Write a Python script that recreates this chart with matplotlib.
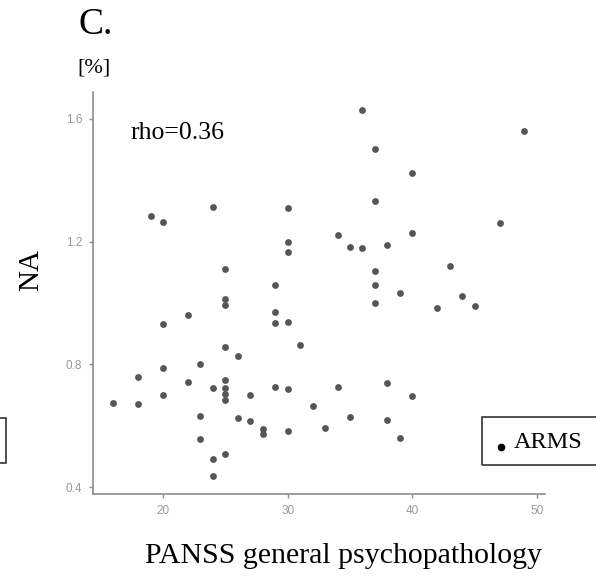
import matplotlib
matplotlib.use('Agg')
import matplotlib.pyplot as plt
from matplotlib.patches import Rectangle

# PANSS general psychopathology score vs NA [%]
panss = [19, 20, 24, 30, 34, 30, 30, 25, 29, 25, 25,
         36, 49, 37, 40, 37, 47, 40, 35, 36, 38, 43, 37, 37, 39, 44, 37, 42, 45,
         31, 34, 38, 40, 32, 35, 33, 38, 39,
         29, 22, 20, 29, 30, 25, 26, 23, 20, 18, 22, 25, 24, 25, 29, 30,
         25, 25, 20, 27, 16, 18, 23, 26, 27, 28, 28, 30, 23, 25, 24, 24]
na = [1.282, 1.265, 1.313, 1.309, 1.22, 1.198, 1.165, 1.11, 1.058, 1.012, 0.995,
      1.629, 1.561, 1.503, 1.423, 1.334, 1.26, 1.229, 1.182, 1.179, 1.189, 1.119,
      1.103, 1.058, 1.031, 1.022, 0.999, 0.983, 0.989,
      0.863, 0.726, 0.738, 0.697, 0.664, 0.629, 0.594, 0.618, 0.559,
      0.971, 0.96, 0.931, 0.934, 0.937, 0.858, 0.827, 0.80, 0.788, 0.759, 0.741,
      0.749, 0.724, 0.724, 0.725, 0.719,
      0.702, 0.685, 0.699, 0.701, 0.675, 0.670, 0.631, 0.626, 0.615, 0.590,
      0.573, 0.583, 0.557, 0.508, 0.493, 0.436]

xticks = [20, 30, 40, 50]
yticks = [0.4, 0.8, 1.2, 1.6]
rho_text = 'rho=0.36'
group = 'ARMS'

serif = ['Liberation Serif', 'DejaVu Serif']
grey = '#8c8c8c'

fig = plt.figure(figsize=(5.96, 5.76), dpi=100)
ax = fig.add_axes([0.1555, 0.1418, 0.7589, 0.699])

ax.scatter(panss, na, s=24, color='#555555', linewidths=0, zorder=3)

# ggplot-style 5% expansion
xr = max(panss) - min(panss)
yr = max(na) - min(na)
ax.set_xlim(min(panss) - 0.05 * xr, max(panss) + 0.05 * xr)
ax.set_ylim(min(na) - 0.05 * yr, max(na) + 0.05 * yr)

ax.set_xticks(xticks)
ax.set_yticks(yticks)
ax.set_xticklabels([str(t) for t in xticks], family='Liberation Sans')
ax.set_yticklabels([str(t) for t in yticks], family='Liberation Sans')
ax.tick_params(colors=grey, labelcolor='#999999', labelsize=8.5, length=3, width=1, pad=4.5)

for s in ['top', 'right']:
    ax.spines[s].set_visible(False)
for s in ['left', 'bottom']:
    ax.spines[s].set_color(grey)
    ax.spines[s].set_linewidth(1.2)

ax.text(0.083, 0.925, rho_text, transform=ax.transAxes, family=serif,
        fontsize=18.5, va='top', ha='left')

# labels in figure pixels
W, H = 596, 576
fig.text(95.5 / W, 1 - 25 / H, 'C.', family=serif, fontsize=27, ha='center', va='center')
fig.text(94 / W, 1 - 68 / H, '[%]', family=serif, fontsize=16, ha='center', va='center')
fig.text(31 / W, 1 - 270 / H, 'NA', family=serif, fontsize=21, rotation=90,
         ha='center', va='center')
fig.text(344 / W, 1 - 556 / H, 'PANSS general psychopathology', family=serif,
         fontsize=21.5, ha='center', va='center')

# legend box (right) and cut-off box of the neighbouring panel (left)
fig.patches.append(Rectangle((482 / W, 1 - 465 / H), 120 / W, 47.7 / H,
                             transform=fig.transFigure, fill=False,
                             edgecolor='#333333', linewidth=1.2))
fig.patches.append(Rectangle((-10 / W, 1 - 463.3 / H), 16 / W, 45.6 / H,
                             transform=fig.transFigure, fill=False,
                             edgecolor='#333333', linewidth=1.2))
fig.lines.append(plt.Line2D([501 / W], [1 - 447 / H], transform=fig.transFigure,
                            marker='o', markersize=4.5, color='black', linestyle=''))
fig.text(514 / W, 1 - 442 / H, group, family=serif, fontsize=17.5,
         ha='left', va='center')

fig.savefig('out.png', dpi=100)
